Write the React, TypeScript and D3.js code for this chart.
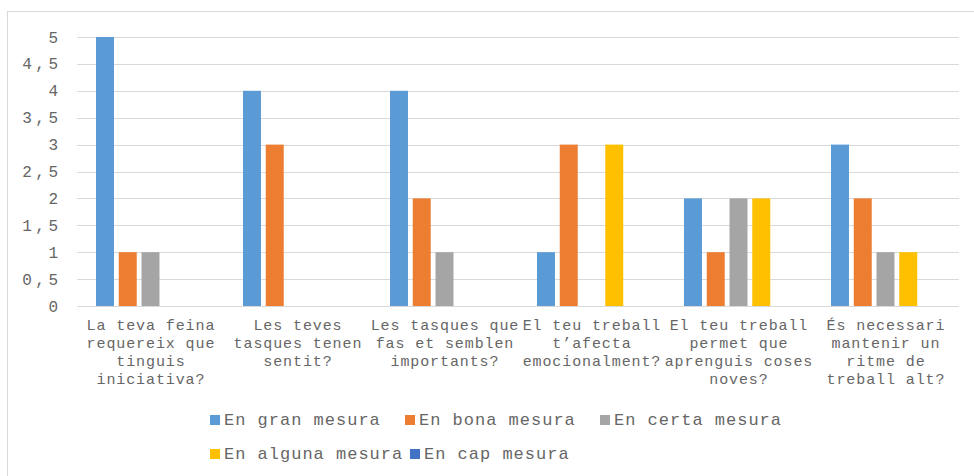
import React from "react";
import * as d3 from "d3";

const categories: string[][] = [
  ["La teva feina", "requereix que", "tinguis", "iniciativa?"],
  ["Les teves", "tasques tenen", "sentit?"],
  ["Les tasques que", "fas et semblen", "importants?"],
  ["El teu treball", "t’afecta", "emocionalment?"],
  ["El teu treball", "permet que", "aprenguis coses", "noves?"],
  ["És necessari", "mantenir un", "ritme de", "treball alt?"],
];
const seriesNames = ["En gran mesura", "En bona mesura", "En certa mesura", "En alguna mesura", "En cap mesura"];
const seriesColors = ["#5B9BD5", "#ED7D31", "#A5A5A5", "#FFC000", "#4472C4"];
const granMesura = [5, 4, 4, 1, 2, 3];
const bonaMesura = [1, 3, 2, 3, 1, 2];
const certaMesura = [1, 0, 1, 0, 2, 1];
const algunaMesura = [0, 0, 0, 3, 2, 1];
const capMesura = [0, 0, 0, 0, 0, 0];
const seriesValues = [granMesura, bonaMesura, certaMesura, algunaMesura, capMesura];
const yTicks = [0, 0.5, 1, 1.5, 2, 2.5, 3, 3.5, 4, 4.5, 5];

const W = 974, H = 476;
const left = 77, right = 959, top = 37, bottom = 306;
const FONT = "'Liberation Mono', 'Courier New', monospace";
const TXT = "#666666";
const GRID = "#d9d9d9";

export default function App() {
  const catIdx = categories.map((_, i) => String(i));
  const x0 = d3.scaleBand<string>().domain(catIdx).range([left, right]).padding(0);
  const x1 = d3.scaleBand<string>().domain(seriesNames).range([0, x0.bandwidth()]).paddingInner(0.21).paddingOuter(0.835);
  const y = d3.scaleLinear().domain([0, 5]).range([bottom, top]);
  const fmt = (v: number) => String(v).replace(".", ",");

  const legendRows = [
    { y: 415, items: [0, 1, 2], step: 195 },
    { y: 449, items: [3, 4], step: 200 },
  ];

  return (
    <svg width={W} height={H} style={{ position: "absolute", left: 0, top: 0, background: "#fff" }}>
      <rect x={7.5} y={11.5} width={W + 10} height={H + 10} fill="#fff" stroke={GRID} strokeWidth={1} />
      {yTicks.map((t) => (
        <g key={t}>
          <line x1={left} x2={right} y1={Math.round(y(t)) + 0.5} y2={Math.round(y(t)) + 0.5} stroke={GRID} strokeWidth={1} />
          <text x={58 + 3.5} y={y(t) + 5.5} textAnchor="end" fontFamily={FONT} fontSize={16} letterSpacing={3.5} fill={TXT}>
            {fmt(t)}
          </text>
        </g>
      ))}
      {categories.map((_, ci) =>
        seriesNames.map((s, si) => {
          const v = seriesValues[si][ci];
          if (!v) return null;
          return (
            <rect
              key={ci + "-" + si}
              x={(x0(String(ci)) as number) + (x1(s) as number)}
              y={y(v)}
              width={x1.bandwidth()}
              height={y(0) - y(v)}
              fill={seriesColors[si]}
            />
          );
        })
      )}
      {categories.map((lines, ci) => (
        <text key={ci} textAnchor="middle" fontFamily={FONT} fontSize={15} letterSpacing={0.9} fill={TXT}>
          {lines.map((l, li) => (
            <tspan key={li} x={(x0(String(ci)) as number) + x0.bandwidth() / 2 + 0.45} y={330 + li * 18}>
              {l}
            </tspan>
          ))}
        </text>
      ))}
      {legendRows.map((row, ri) =>
        row.items.map((si, k) => {
          const lx = 210 + k * row.step;
          return (
            <g key={ri + "-" + si}>
              <rect x={lx} y={row.y} width={10} height={10} fill={seriesColors[si]} />
              <text x={lx + 14} y={row.y + 10} fontFamily={FONT} fontSize={17} letterSpacing={1} fill={TXT}>
                {seriesNames[si]}
              </text>
            </g>
          );
        })
      )}
    </svg>
  );
}
